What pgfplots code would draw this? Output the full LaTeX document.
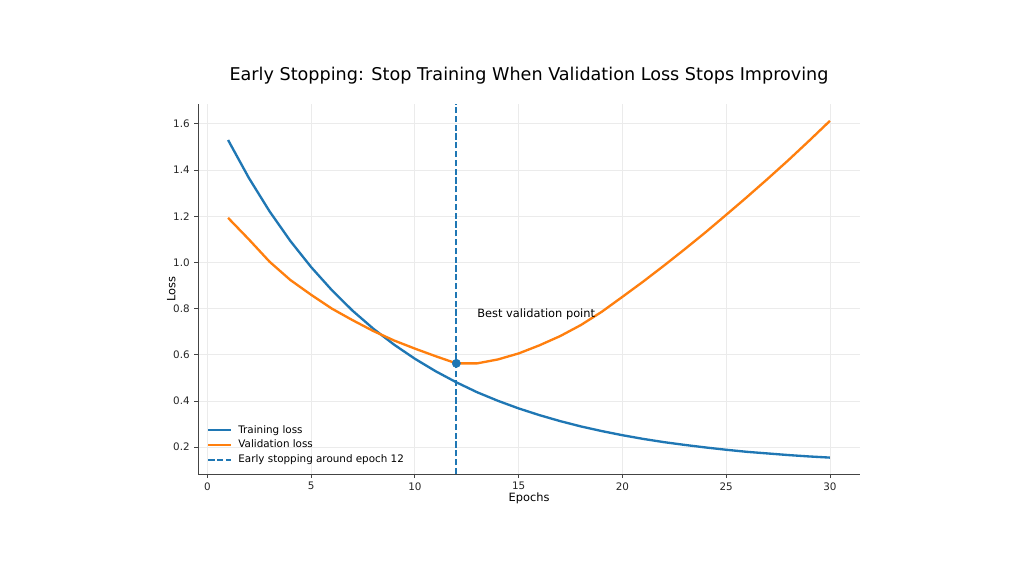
\documentclass[border=0pt]{standalone}
\usepackage{fontspec}
\setmainfont{DejaVu Sans}
\usepackage{pgfplots}
\pgfplotsset{compat=1.18}
\definecolor{cblue}{HTML}{1F77B4}
\definecolor{corange}{HTML}{FF7F0E}
\definecolor{spine}{HTML}{444444}
\definecolor{gridc}{HTML}{EBEBEB}
\pgfplotstableread{
x y
1 1.530
2 1.366
3 1.221
4 1.093
5 0.980
6 0.880
7 0.791
8 0.713
9 0.644
10 0.583
11 0.529
12 0.481
13 0.438
14 0.401
15 0.368
16 0.339
17 0.313
18 0.290
19 0.270
20 0.252
21 0.236
22 0.222
23 0.210
24 0.199
25 0.189
26 0.180
27 0.173
28 0.166
29 0.160
30 0.155
}\train
\pgfplotstableread{
x y
1 1.193
2 1.100
3 1.003
4 0.924
5 0.860
6 0.800
7 0.750
8 0.703
9 0.662
10 0.627
11 0.594
12 0.563
13 0.563
14 0.580
15 0.606
16 0.641
17 0.681
18 0.729
19 0.786
20 0.851
21 0.917
22 0.986
23 1.057
24 1.130
25 1.206
26 1.283
27 1.362
28 1.443
29 1.527
30 1.613
}\valid
\begin{document}
\begin{tikzpicture}
\path[use as bounding box, fill=white] (0,0) rectangle (768pt,432pt);
\begin{axis}[
  at={(148.5pt,76.5pt)}, anchor=south west,
  scale only axis, width=496.5pt, height=277.5pt,
  xmin=-0.45, xmax=31.45, ymin=0.084, ymax=1.686,
  axis lines=left,
  axis line style={-, draw=spine, line width=0.65pt},
  xtick={0,5,10,15,20,25,30},
  ytick={0.2,0.4,0.6,0.8,1.0,1.2,1.4,1.6},
  tick align=outside, major tick length=2.7pt,
  tick style={draw=spine, line width=0.6pt},
  grid=major, major grid style={draw=gridc, line width=0.6pt},
  tick label style={font=\fontsize{7.77}{9}\selectfont, text=black!85},
  /pgf/number format/assume math mode=true,
  yticklabel style={/pgf/number format/.cd, fixed, fixed zerofill, precision=1},
  xlabel={Epochs}, ylabel={Loss},
  xlabel style={at={(axis description cs:0.5,-0.074)}, anchor=base, font=\fontsize{8.55}{10}\selectfont},
  ylabel style={at={(axis description cs:-0.034,0.5)}, anchor=base, font=\fontsize{8.55}{10}\selectfont},
  title={Early Stopping: Stop Training When Validation Loss Stops Improving},
  title style={at={(axis description cs:0.5,1.043)}, anchor=base, font=\fontsize{13.2}{15}\selectfont},
  legend style={at={(axis description cs:0.0136,0.024)}, anchor=south west, draw=none, fill=none,
    font=\fontsize{7.77}{9}\selectfont, inner sep=0pt, row sep=3.5pt,
    nodes={inner sep=0pt, text height=6pt, text depth=1.6pt}},
  legend cell align=left,
  legend image code/.code={\draw[#1] (0pt,0pt) -- (17.25pt,0pt); \path (21.6pt,0pt);},
]
\addplot[cblue, line width=1.75pt] table[x=x,y=y] {\train};
\addlegendentry{Training loss}
\addplot[corange, line width=1.75pt] table[x=x,y=y] {\valid};
\addlegendentry{Validation loss}
\addplot[cblue, line width=1.35pt, dash pattern=on 4.6pt off 2pt] coordinates {(12,0.084) (12,1.686)};
\addlegendentry{Early stopping around epoch 12}
\addplot[only marks, mark=*, mark size=3.1pt, draw=cblue, fill=cblue, forget plot] coordinates {(12,0.563)};
\node[anchor=base west, font=\fontsize{8.55}{10}\selectfont, inner sep=0pt] at (axis cs:13,0.76) {Best validation point};
\end{axis}
\end{tikzpicture}
\end{document}
